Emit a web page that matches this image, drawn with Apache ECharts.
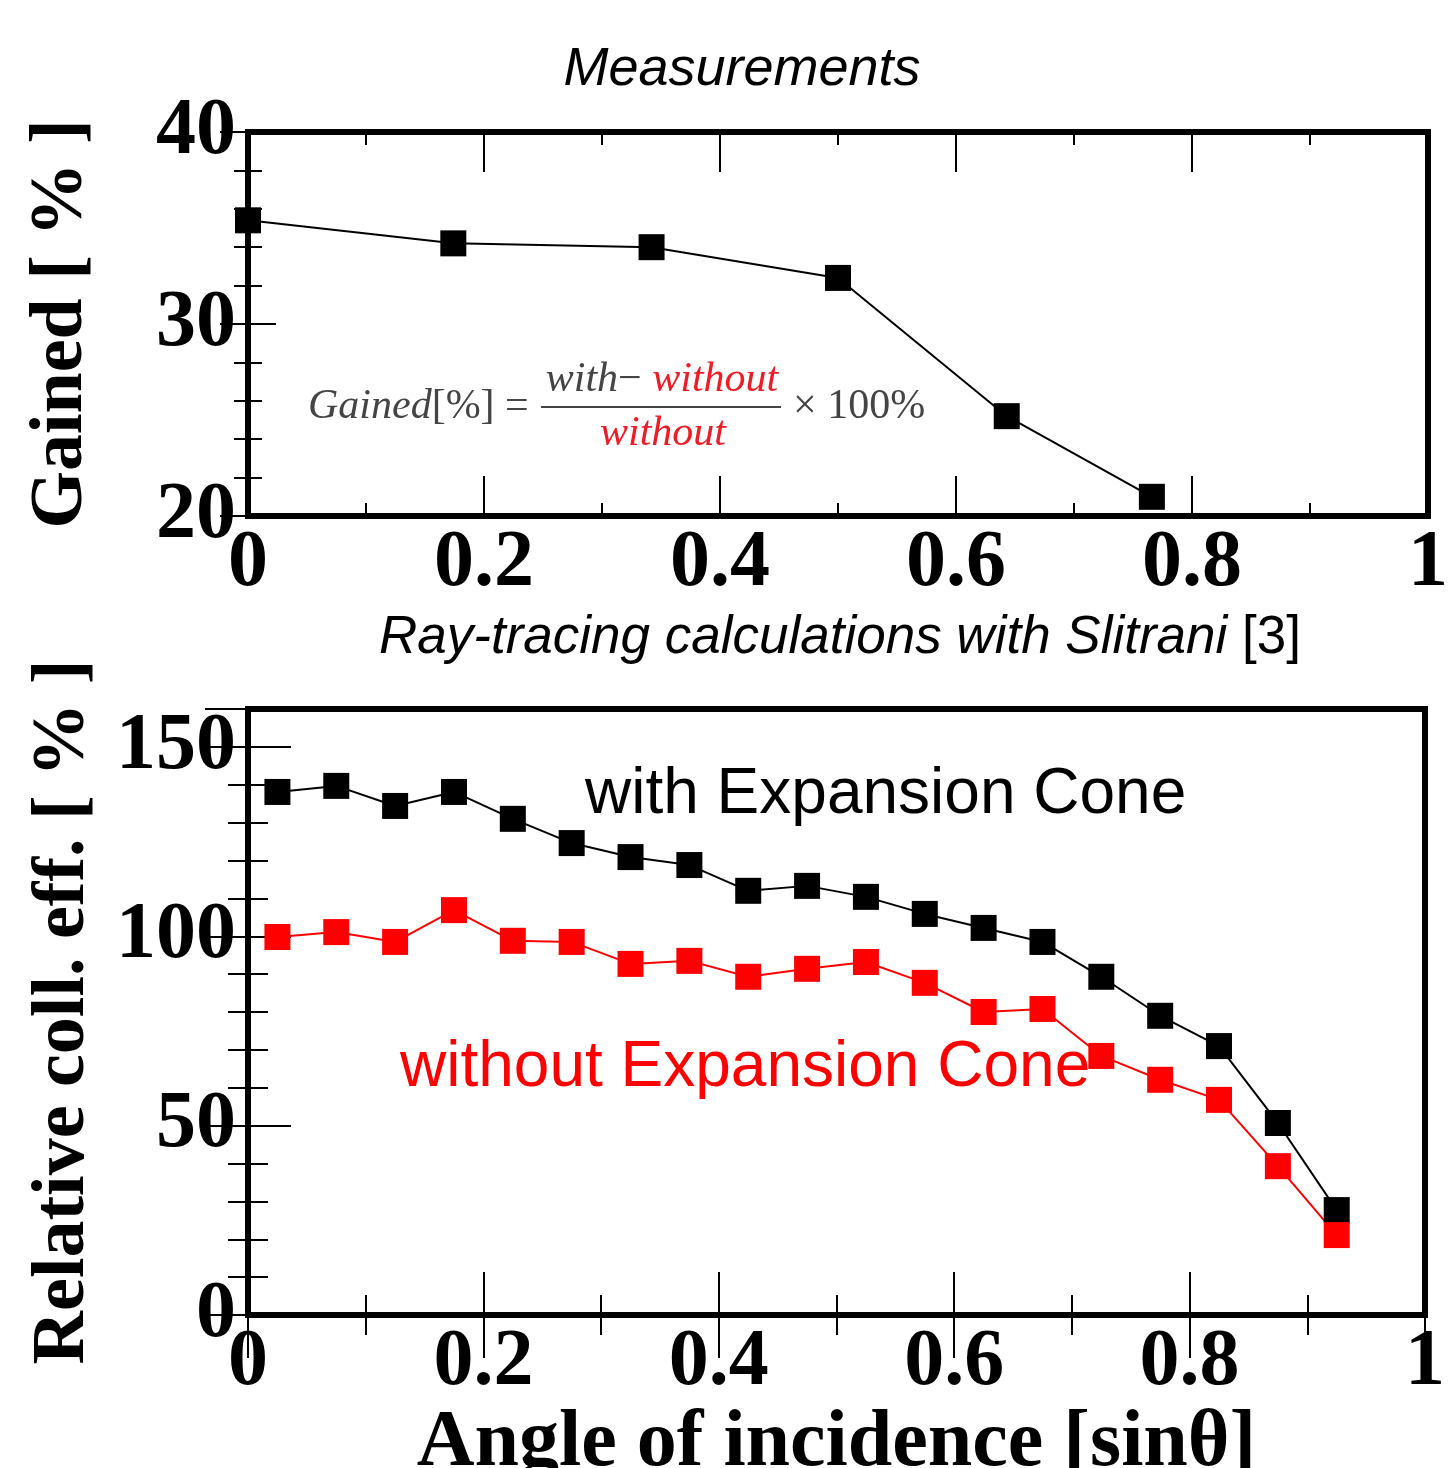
<!DOCTYPE html>
<html><head><meta charset="utf-8">
<script src="https://cdn.jsdelivr.net/npm/echarts@6/dist/echarts.min.js"></script>
<style>html,body{margin:0;padding:0;background:#fff;overflow:hidden}#c{width:1450px;height:1468px}</style>
</head><body><div id="c"></div>
<script>
// ---- data ----
const measX = [0, 0.174, 0.342, 0.5, 0.643, 0.766];
const measGained = [35.4, 34.2, 34.0, 32.4, 25.2, 21.0];
const simX = [0.025, 0.075, 0.125, 0.175, 0.225, 0.275, 0.325, 0.375, 0.425, 0.475, 0.525, 0.575, 0.625, 0.675, 0.725, 0.775, 0.825, 0.875, 0.925];
const withCone = [138.1, 139.7, 134.4, 138.1, 131.0, 124.6, 120.9, 118.8, 112.0, 113.3, 110.4, 105.9, 102.2, 98.5, 89.3, 79.0, 71.0, 50.7, 27.7];
const withoutCone = [99.8, 101.1, 98.5, 106.9, 98.8, 98.5, 92.7, 93.5, 89.3, 91.4, 93.2, 87.7, 80.0, 80.8, 68.4, 62.1, 56.8, 39.3, 21.1];
const topTitle = 'Measurements';
const bottomTitleItalic = 'Ray-tracing calculations with Slitrani';
const bottomTitleRef = '[3]';
const labelWith = 'with Expansion Cone';
const labelWithout = 'without Expansion Cone';

const pairs = (xs, ys) => xs.map((x, i) => [x, ys[i]]);
const SERIF = '"Liberation Serif", "Times New Roman", serif';
const SANS = '"Liberation Sans", Arial, Helvetica, sans-serif';

function xAx(grid, pos, showLabel, major, minor, name, nameGap) {
  return {
    type: 'value', gridIndex: grid, position: pos, min: 0, max: 1, interval: 0.2,
    axisLine: { show: false },
    axisTick: { show: true, inside: true, length: major, lineStyle: { color: '#000', width: 2 } },
    minorTick: { show: true, splitNumber: 2, length: minor, lineStyle: { color: '#000', width: 2 } },
    splitLine: { show: false }, minorSplitLine: { show: false },
    axisLabel: { show: showLabel, margin: 8, color: '#000', fontFamily: SERIF, fontWeight: 'bold', fontSize: 80 },
    name: name || '', nameLocation: 'middle', nameGap: nameGap || 0,
    nameTextStyle: { color: '#000', fontFamily: SERIF, fontWeight: 'bold', fontSize: 80 }
  };
}
function yAx(grid, pos, showLabel, min, max, interval, major, minor, name, nameGap, nameSize) {
  return {
    type: 'value', gridIndex: grid, position: pos, min: min, max: max, interval: interval,
    axisLine: { show: false },
    axisTick: { show: true, inside: true, length: major, lineStyle: { color: '#000', width: 2 } },
    minorTick: { show: true, splitNumber: 5, length: minor, lineStyle: { color: '#000', width: 2 } },
    splitLine: { show: false }, minorSplitLine: { show: false },
    axisLabel: { show: showLabel, margin: 12, color: '#000', fontFamily: SERIF, fontWeight: 'bold', fontSize: 80 },
    name: name || '', nameLocation: 'middle', nameRotate: 90, nameGap: nameGap || 0,
    nameTextStyle: { color: '#000', fontFamily: SERIF, fontWeight: 'bold', fontSize: nameSize || 74 }
  };
}

const chart = echarts.init(document.getElementById('c'), null, { renderer: 'canvas' });
const gray = '#444';
const fRed = '#ee1c25';
chart.setOption({
  animation: false,
  backgroundColor: '#fff',
  grid: [
    { left: 248, top: 132, width: 1180, height: 384, show: true, borderWidth: 6, borderColor: '#000', backgroundColor: 'transparent', containLabel: false, outerBoundsMode: 'none' },
    { left: 248, top: 709, width: 1177, height: 606, show: true, borderWidth: 6, borderColor: '#000', backgroundColor: 'transparent', containLabel: false, outerBoundsMode: 'none' }
  ],
  xAxis: [
    xAx(0, 'bottom', true, 40, 13),
    xAx(0, 'top', false, 40, 13),
    xAx(1, 'bottom', true, 43, 20, 'Angle of incidence [sinθ]', 78),
    xAx(1, 'top', false, 43, 20)
  ],
  yAxis: [
    yAx(0, 'left', true, 20, 40, 10, 28, 14, 'Gained [ % ]', 149, 74),
    yAx(0, 'right', false, 20, 40, 10, 28, 14),
    yAx(1, 'left', true, 0, 160, 50, 43, 20, 'Relative coll. eff. [ % ]', 147, 74),
    yAx(1, 'right', false, 0, 160, 50, 43, 20)
  ],
  series: [
    { type: 'line', xAxisIndex: 0, yAxisIndex: 0, data: pairs(measX, measGained), clip: false,
      symbol: 'rect', symbolSize: 26, itemStyle: { color: '#000' },
      lineStyle: { color: '#000', width: 2 } },
    { type: 'line', xAxisIndex: 2, yAxisIndex: 2, data: pairs(simX, withCone), clip: false,
      symbol: 'rect', symbolSize: 26, itemStyle: { color: '#000' },
      lineStyle: { color: '#000', width: 2 } },
    { type: 'line', xAxisIndex: 2, yAxisIndex: 2, data: pairs(simX, withoutCone), clip: false,
      symbol: 'rect', symbolSize: 26, itemStyle: { color: '#ff0000' },
      lineStyle: { color: '#ff0000', width: 2 } }
  ],
  graphic: [
    { type: 'text', x: 742, y: 70, style: { text: topTitle, font: 'italic 54px ' + SANS, fill: '#000', align: 'center', verticalAlign: 'middle' } },
    { type: 'text', x: 840, y: 638, style: {
        text: '{i|' + bottomTitleItalic + ' }{u|' + bottomTitleRef + '}', align: 'center', verticalAlign: 'middle',
        rich: { i: { font: 'italic 53px ' + SANS, fill: '#000' }, u: { font: '53px ' + SANS, fill: '#000' } } } },
    { type: 'text', x: 585, y: 795, z: 10, style: { text: labelWith, font: '64px ' + SANS, fill: '#000', align: 'left', verticalAlign: 'middle' } },
    { type: 'text', x: 400, y: 1068, z: 10, style: { text: labelWithout, font: '64px ' + SANS, fill: '#ff0000', align: 'left', verticalAlign: 'middle' } },
    // formula
    { type: 'text', x: 308, y: 407, style: {
        text: '{i|Gained}{u|[%] =}', align: 'left', verticalAlign: 'middle',
        rich: { i: { font: 'italic 42px ' + SERIF, fill: gray }, u: { font: '42px ' + SERIF, fill: gray } } } },
    { type: 'text', x: 662, y: 380, style: {
        text: '{i|with}{u|− }{r|without}', align: 'center', verticalAlign: 'middle',
        rich: { i: { font: 'italic 42px ' + SERIF, fill: gray }, u: { font: '42px ' + SERIF, fill: gray }, r: { font: 'italic 42px ' + SERIF, fill: fRed } } } },
    { type: 'line', shape: { x1: 541, y1: 407, x2: 781, y2: 407 }, style: { stroke: gray, lineWidth: 2 } },
    { type: 'text', x: 663, y: 434, style: { text: 'without', font: 'italic 42px ' + SERIF, fill: fRed, align: 'center', verticalAlign: 'middle' } },
    { type: 'text', x: 793, y: 407, style: { text: '× 100%', font: '42px ' + SERIF, fill: gray, align: 'left', verticalAlign: 'middle' } }
  ]
});
</script>
</body></html>
